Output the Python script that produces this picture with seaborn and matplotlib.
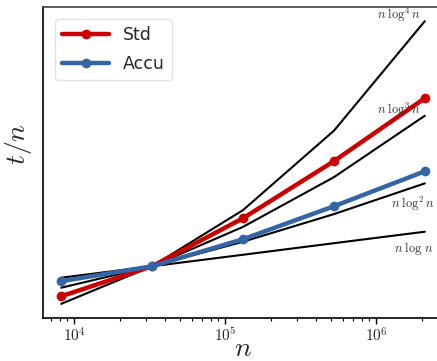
import math
import matplotlib
matplotlib.use("Agg")
import matplotlib.pyplot as plt
import seaborn as sns
import pandas as pd
from matplotlib.ticker import FuncFormatter

# data (t/n normalised at n = 2^15)
n_vals = [8192, 32768, 131072, 524288, 2097152]
std_vals = [0.652, 1.0, 1.556, 2.217, 2.947]
accu_vals = [0.826, 1.0, 1.313, 1.695, 2.100]
ref_log1 = [0.867, 1.0, 1.133, 1.267, 1.400]
ref_log2 = [0.751, 1.0, 1.284, 1.604, 1.960]
ref_log3 = [0.651, 1.0, 1.456, 2.032, 2.744]
ref_log4 = [0.564, 1.0, 1.650, 2.570, 3.840]
ref_labels = [r"$n\;\log\, n$", r"$n\;\log^2 n$", r"$n\;\log^3 n$", r"$n\;\log^4 n$"]
series_labels = ["Std", "Accu"]

sns.set_style("ticks")
plt.rcParams["mathtext.fontset"] = "cm"
plt.rcParams["font.family"] = ["DejaVu Sans"]

fig = plt.figure(figsize=(4.37, 3.61), dpi=100)
ax = fig.add_axes([43 / 437, 1 - 318 / 361, (443 - 43) / 437, (318 - 7) / 361])

refs = [ref_log1, ref_log2, ref_log3, ref_log4]
for vals in refs:
    d = pd.DataFrame({"n": n_vals, "y": vals})
    sns.lineplot(data=d, x="n", y="y", ax=ax, color="black", linewidth=1.5,
                 legend=False, label="_nolegend_")

colors = ["#cc0000", "#3465a4"]
for vals, lab, c in zip([std_vals, accu_vals], series_labels, colors):
    d = pd.DataFrame({"n": n_vals, "y": vals})
    sns.lineplot(data=d, x="n", y="y", ax=ax, color=c, linewidth=3.2,
                 marker="o", markersize=7, markeredgewidth=0, label=lab)

ax.set_xscale("log")
ax.margins(x=0.05, y=0.05)
ax.set_yticks([])
ax.xaxis.set_major_formatter(FuncFormatter(lambda v, p: r"$10^{%d}$" % round(math.log10(v))))
ax.tick_params(axis="x", which="major", labelsize=11, length=4, width=1,
               color="black", pad=2)
ax.tick_params(axis="x", which="minor", length=2.5, width=0.8, color="black")

ax.set_xlabel(r"$n$", fontsize=20)
ax.set_ylabel(r"$t/n$", fontsize=20)
ax.xaxis.set_label_coords(0.5, -0.05)
ax.yaxis.set_label_coords(-0.023, 0.56)

for sp in ["left", "bottom"]:
    ax.spines[sp].set_color("black")
    ax.spines[sp].set_linewidth(1.2)
ax.spines["top"].set_color("#444444")
ax.spines["top"].set_linewidth(1.2)
ax.spines["right"].set_visible(False)

# reference labels
offsets = [(9, -20), (9, -25), (-5, 2), (-5, 2)]
for vals, lab, (dx, dy) in zip(refs, ref_labels, offsets):
    ax.annotate(lab, xy=(n_vals[-1], vals[-1]), xytext=(dx, dy),
                textcoords="offset pixels", ha="right", va="baseline",
                fontsize=9, color="#333333")

leg = ax.legend(loc="upper left", fontsize=12.5, handlelength=2.7,
                labelspacing=0.65, frameon=True, fancybox=True,
                borderaxespad=0.7)
leg.get_frame().set_edgecolor("#dddddd")

fig.savefig("out.png", dpi=100)
